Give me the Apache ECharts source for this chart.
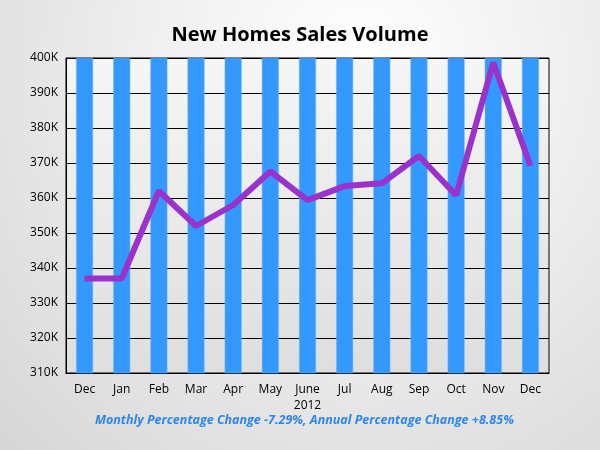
<!DOCTYPE html>
<html>
<head>
<meta charset="utf-8">
<script src="https://cdn.jsdelivr.net/npm/echarts@6/dist/echarts.min.js"></script>
<style>
  html, body { margin: 0; padding: 0; }
  #chart {
    width: 600px; height: 450px;
    background: radial-gradient(ellipse at 60% 15%, #ffffff 0%, #f2f2f2 35%, #d6d6d6 100%);
  }
</style>
</head>
<body>
<div id="chart"></div>
<script>
// months shown on the x axis
var months = ['Dec', 'Jan', 'Feb', 'Mar', 'Apr', 'May', 'June', 'Jul', 'Aug', 'Sep', 'Oct', 'Nov', 'Dec'];
// sales volume (line)
var salesVolume = [337000, 337000, 362000, 352000, 358000, 367600, 359400, 363400, 364200, 372000, 360800, 398700, 369200];
// background columns, all at the top of the axis
var columnTop = [400000, 400000, 400000, 400000, 400000, 400000, 400000, 400000, 400000, 400000, 400000, 400000, 400000];
var yMin = 310000, yMax = 400000, yStep = 10000;

var chart = echarts.init(document.getElementById('chart'));

var option = {
    backgroundColor: 'transparent',
    title: [{
        text: 'New Homes Sales Volume',
        left: 'center',
        top: 20,
        textStyle: { fontFamily: 'Open Sans', fontSize: 20, fontWeight: 'bold', color: '#000' }
    }, {
        text: 'Monthly Percentage Change -7.29%, Annual Percentage Change +8.85%',
        left: 90,
        top: 409,
        textStyle: { fontFamily: 'Open Sans', fontSize: 12.5, fontWeight: 'bold', fontStyle: 'italic', color: '#2f86ea' }
    }],
    grid: {
        left: 66, right: 51, top: 58, bottom: 77,
        show: true,
        borderColor: '#000',
        borderWidth: 1,
        backgroundColor: {
            type: 'linear', x: 0, y: 0, x2: 0, y2: 1,
            colorStops: [{ offset: 0, color: '#f6f6f6' }, { offset: 1, color: '#dedede' }]
        }
    },
    xAxis: {
        type: 'category',
        data: months,
        axisLine: { lineStyle: { color: '#000' } },
        axisTick: { alignWithLabel: true, length: 5, lineStyle: { color: '#777' } },
        axisLabel: {
            fontFamily: 'Open Sans', fontSize: 12, color: '#000', margin: 9, lineHeight: 16,
            formatter: function (v, i) { return i === 6 ? v + '\n2012' : v; }
        }
    },
    yAxis: {
        type: 'value',
        min: yMin, max: yMax, interval: yStep,
        axisLine: { show: true, lineStyle: { color: '#000' } },
        axisTick: { show: false },
        splitLine: { lineStyle: { color: '#000', width: 1 } },
        axisLabel: {
            fontFamily: 'Open Sans', fontSize: 12, color: '#000', margin: 8,
            formatter: function (v) { return (v / 1000) + 'K'; }
        }
    },
    series: [{
        type: 'bar',
        data: columnTop,
        barWidth: 17,
        z: 1,
        itemStyle: { color: '#3399ff', borderColor: '#7ab8f5', borderWidth: 0.5 },
        silent: true
    }, {
        type: 'line',
        data: salesVolume,
        z: 3,
        symbol: 'none',
        lineStyle: { color: '#9933cc', width: 6 }
    }]
};

chart.setOption(option);
</script>
</body>
</html>
